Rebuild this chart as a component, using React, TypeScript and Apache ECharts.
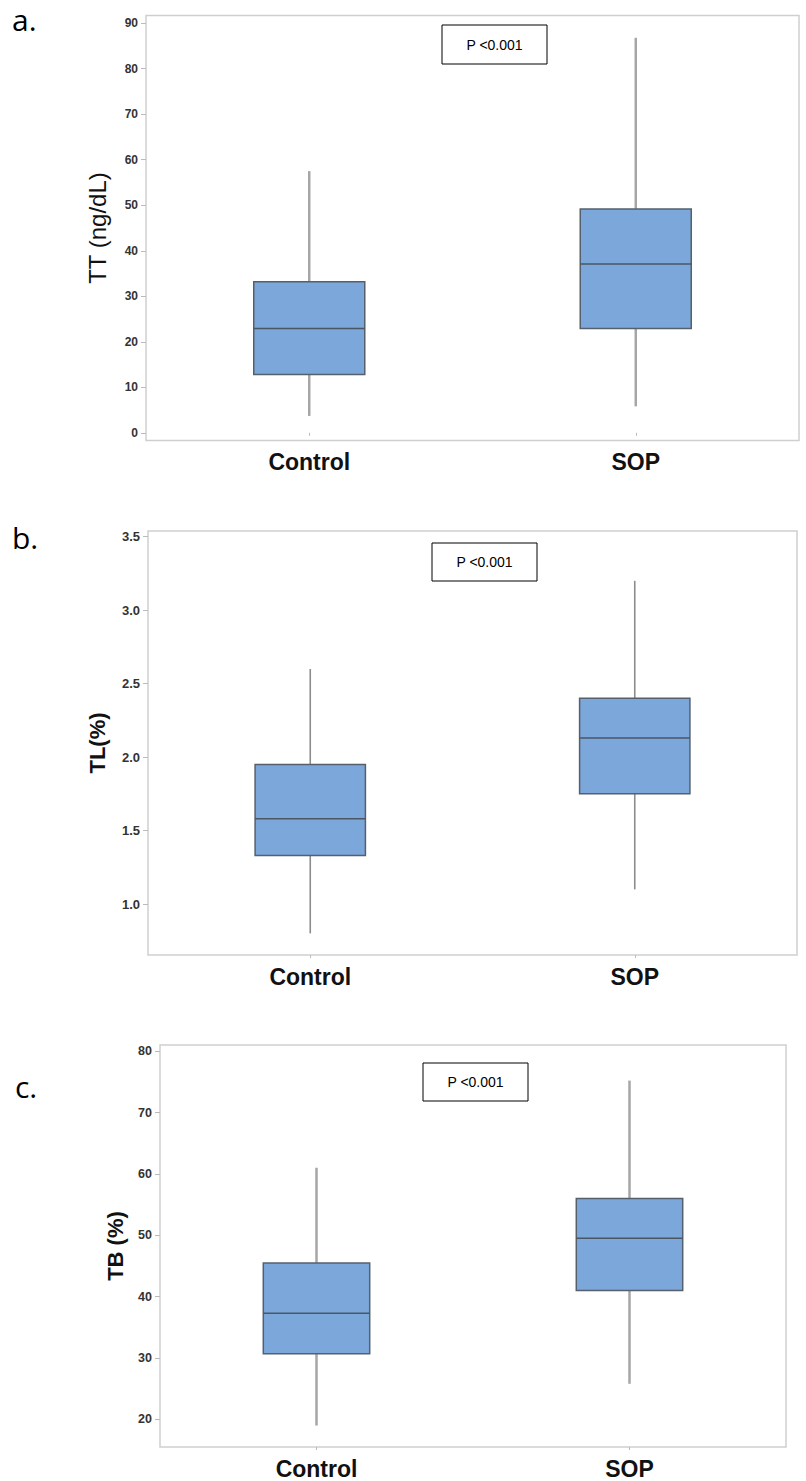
import React, { useEffect, useRef } from "react";
import * as echarts from "echarts";

const categories = ["Control", "SOP"];

// [min, Q1, median, Q3, max]
const ttControl = [3.7, 12.8, 22.9, 33.2, 57.5];
const ttSOP = [5.8, 22.9, 37.1, 49.2, 86.8];
const tlControl = [0.8, 1.33, 1.58, 1.95, 2.6];
const tlSOP = [1.1, 1.75, 2.13, 2.4, 3.2];
const tbControl = [19, 30.7, 37.3, 45.5, 61];
const tbSOP = [25.8, 41, 49.5, 56, 75.2];

const ttTicks = [0, 10, 20, 30, 40, 50, 60, 70, 80, 90];
const tlTicks = [1.0, 1.5, 2.0, 2.5, 3.0, 3.5];
const tbTicks = [20, 30, 40, 50, 60, 70, 80];

const panelLabels = ["a.", "b.", "c."];
const yNames = ["TT (ng/dL)", "TL(%)", "TB (%)"];
const pText = "P <0.001";

const FONT = "'Liberation Sans', Arial, sans-serif";

function makeRender(whiskerColor: string, whiskerWidth: number) {
  return (params: any, api: any) => {
    const idx = api.value(0);
    const mn = api.coord([idx, api.value(1)]);
    const q1 = api.coord([idx, api.value(2)]);
    const md = api.coord([idx, api.value(3)]);
    const q3 = api.coord([idx, api.value(4)]);
    const mx = api.coord([idx, api.value(5)]);
    const band = api.size([1, 0])[0];
    const w = band * 0.34;
    const cx = q1[0];
    return {
      type: "group",
      children: [
        {
          type: "line",
          shape: { x1: cx, y1: mx[1], x2: cx, y2: q3[1] },
          style: { stroke: whiskerColor, lineWidth: whiskerWidth },
        },
        {
          type: "line",
          shape: { x1: cx, y1: q1[1], x2: cx, y2: mn[1] },
          style: { stroke: whiskerColor, lineWidth: whiskerWidth },
        },
        {
          type: "rect",
          shape: { x: cx - w / 2, y: q3[1], width: w, height: q1[1] - q3[1] },
          style: { fill: "#7ba7da", stroke: "#56606c", lineWidth: 1.5 },
        },
        {
          type: "line",
          shape: { x1: cx - w / 2, y1: md[1], x2: cx + w / 2, y2: md[1] },
          style: { stroke: "#4c5663", lineWidth: 1.5 },
        },
      ],
    };
  };
}

export default function App() {
  const ref = useRef<HTMLDivElement>(null);
  useEffect(() => {
    if (!ref.current) return;
    const chart = echarts.init(ref.current, null, { renderer: "svg" });

    const grids = [
      { left: 146, top: 15.5, width: 653, height: 425 },
      { left: 148, top: 531, width: 649, height: 424 },
      { left: 160, top: 1045, width: 626, height: 402 },
    ];
    const yRanges = [
      [-1.7, 91.7],
      [0.653, 3.539],
      [15.5, 81],
    ];
    const yTicks = [ttTicks, tlTicks, tbTicks];
    const tickFont = [12, 13, 12.5];
    const nameGaps = [37, 40, 34];
    const nameSizes = [24, 22, 22];
    const nameWeights = ["500", "bold", "bold"];
    const tickFmt = [
      (v: number) => String(v),
      (v: number) => v.toFixed(1),
      (v: number) => String(v),
    ];
    const seriesData = [
      [ttControl, ttSOP],
      [tlControl, tlSOP],
      [tbControl, tbSOP],
    ];
    const whisk = [
      ["#a6a6a6", 2.5],
      ["#8c8c8c", 1.6],
      ["#a6a6a6", 2.5],
    ];

    const option: any = {
      animation: false,
      backgroundColor: "#ffffff",
      grid: grids.map((g) => ({
        ...g,
        show: true,
        borderColor: "#cfcfcf",
        borderWidth: 1.5,
        backgroundColor: "transparent",
      })),
      xAxis: grids.map((_, i) => ({
        type: "category",
        gridIndex: i,
        data: categories,
        boundaryGap: true,
        axisLine: { show: false },
        axisTick: { show: true, alignWithLabel: true, length: 3, lineStyle: { color: "#bbbbbb" } },
        axisLabel: {
          margin: 10,
          fontSize: 23,
          fontWeight: "bold",
          color: "#111111",
          fontFamily: FONT,
        },
        splitLine: { show: false },
      })),
      yAxis: grids.map((_, i) => ({
        type: "value",
        gridIndex: i,
        min: yRanges[i][0],
        max: yRanges[i][1],
        name: yNames[i],
        nameLocation: "middle",
        nameRotate: 90,
        nameGap: nameGaps[i],
        nameTextStyle: {
          fontSize: nameSizes[i],
          fontWeight: nameWeights[i],
          color: "#111111",
          fontFamily: FONT,
        },
        axisLine: { show: false },
        axisTick: {
          show: true,
          length: 5,
          customValues: yTicks[i],
          lineStyle: { color: "#bbbbbb" },
        },
        axisLabel: {
          customValues: yTicks[i],
          formatter: tickFmt[i],
          fontSize: tickFont[i],
          fontWeight: "bold",
          color: "#333333",
          fontFamily: FONT,
          margin: 8,
        },
        splitLine: { show: false },
      })),
      series: seriesData.map((grp, i) => ({
        type: "custom",
        xAxisIndex: i,
        yAxisIndex: i,
        renderItem: makeRender(whisk[i][0] as string, whisk[i][1] as number),
        encode: { x: 0, y: [1, 2, 3, 4, 5] },
        data: grp.map((v, k) => [k, ...v]),
      })),
      graphic: [
        { type: "text", left: 12, top: 4, style: { text: panelLabels[0], fontSize: 30, fontFamily: "'Open Sans', sans-serif", fill: "#000" } },
        { type: "text", left: 12, top: 522, style: { text: panelLabels[1], fontSize: 30, fontFamily: "'Open Sans', sans-serif", fill: "#000" } },
        { type: "text", left: 15, top: 1071, style: { text: panelLabels[2], fontSize: 30, fontFamily: "'Open Sans', sans-serif", fill: "#000" } },
        ...[
          [442, 25, 105, 39],
          [432, 543, 105, 38],
          [423, 1063, 105, 38],
        ].flatMap(([x, y, w, h]) => [
          {
            type: "rect",
            shape: { x, y, width: w, height: h },
            style: { fill: "#fff", stroke: "#000", lineWidth: 1 },
            z: 10,
          },
          {
            type: "text",
            x: x + w / 2,
            y: y + h / 2,
            style: {
              text: pText,
              fontSize: 14,
              fontFamily: FONT,
              fill: "#000",
              align: "center",
              verticalAlign: "middle",
            },
            z: 11,
          },
        ]),
      ],
    };
    chart.setOption(option);
    return () => chart.dispose();
  }, []);
  return (
    <div
      ref={ref}
      style={{ position: "absolute", left: 0, top: 0, width: 806, height: 1481, background: "#fff" }}
    />
  );
}
